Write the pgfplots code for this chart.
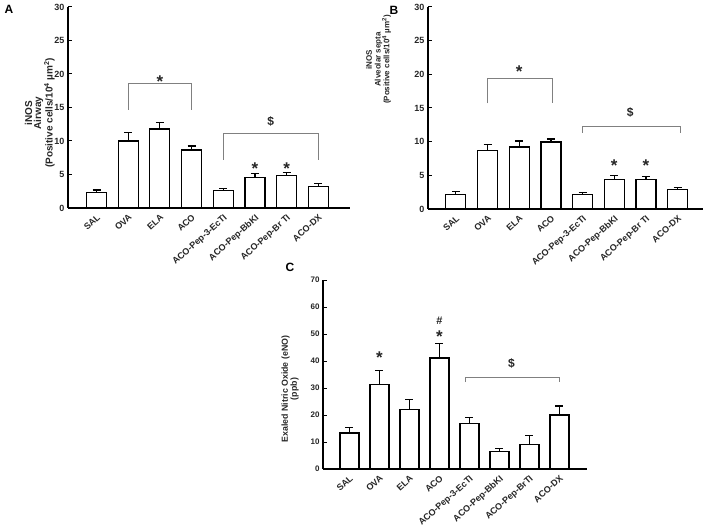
\documentclass[border=0pt]{standalone}
\usepackage{pgfplots}
\pgfplotsset{compat=1.18}
\usepackage{pgfplotstable}
\usepackage{fontspec}
\setmainfont{Liberation Sans}
\definecolor{txt}{gray}{0.15}
\definecolor{brk}{gray}{0.5}
\pgfplotstableread{
x y e
0 2.3 0.4
1 10.0 1.3
2 11.8 1.0
3 8.65 0.6
4 2.65 0.3
5 4.6 0.6
6 4.8 0.45
7 3.2 0.4
}\dataA
\pgfplotstableread{
x y e
0 2.2 0.4
1 8.7 0.9
2 9.2 0.9
3 9.95 0.45
4 2.2 0.25
5 4.4 0.6
6 4.4 0.4
7 2.9 0.25
}\dataB
\pgfplotstableread{
x y e
0 13.3 2.0
1 31.4 5.0
2 21.9 3.9
3 41.1 5.3
4 16.8 2.2
5 6.5 1.0
6 9.2 3.1
7 20.0 3.3
}\dataC
\pgfplotsset{
  panel/.style={
    scale only axis, anchor=south west, clip=false,
    axis x line*=bottom, axis y line*=left,
    axis line style={line width=1.2pt, -, black},
    ymin=0,
    xtick=data,
    x tick label style={rotate=42, anchor=north east, font=\fontsize{9}{10}\selectfont\bfseries, inner sep=1pt, text=txt},
    y tick label style={font=\fontsize{9}{10}\selectfont\bfseries, text=txt},
    /pgf/number format/assume math mode=true,
    major x tick style={draw=none},
    major tick length=4pt,
    ytick style={line width=1pt, black},
    ybar, bar width=20pt,
    ylabel style={anchor=center, align=center, text=txt},
  },
  bars/.style={fill=white, draw=black, line width=1.2pt,
    error bars/.cd, y dir=plus, y explicit,
    error bar style={line width=1.2pt, black},
    error mark options={black, line width=1.2pt, mark size=4pt, rotate=90}},
}
\newcommand{\st}{\fontsize{17}{17}\selectfont\bfseries *}
\newcommand{\dl}{\fontsize{12}{12}\selectfont\bfseries \$}
\begin{document}
\begin{tikzpicture}
\useasboundingbox (0pt,0pt) rectangle (708pt,527pt);
\node[font=\fontsize{12}{12}\selectfont\bfseries] at (9pt,518pt) {A};
\node[font=\fontsize{12}{12}\selectfont\bfseries] at (394pt,517pt) {B};
\node[font=\fontsize{12}{12}\selectfont\bfseries] at (290pt,260pt) {C};
% Panel A
\begin{axis}[panel, at={(68pt,319pt)}, width=282pt, height=201pt,
  xmin=-0.9, xmax=8.0, ymax=30, ytick={0,5,...,30},
  xticklabels={SAL,OVA,ELA,ACO,ACO-Pep-3-EcTI,ACO-Pep-BbKI,ACO-Pep-Br TI,ACO-DX},
  ylabel={iNOS\\Airway\\(Positive cells/10\textsuperscript{4} µm\textsuperscript{2})},
  ylabel style={at={(axis description cs:-0.100,0.473)}, font=\fontsize{10}{9}\selectfont\bfseries}]
\addplot[bars] table[x=x,y=y,y error=e] {\dataA};
\draw[brk, line width=0.8pt] (axis cs:1,14.7) -- (axis cs:1,18.6) -- (axis cs:3,18.6) -- (axis cs:3,14.7);
\draw[brk, line width=0.8pt] (axis cs:4,7.2) -- (axis cs:4,11.1) -- (axis cs:7,11.1) -- (axis cs:7,7.2);
\node[text=txt] at (axis cs:2,18.9) {\st};
\node[text=txt] at (axis cs:5.5,12.9) {\dl};
\node[text=txt] at (axis cs:5,5.8) {\st};
\node[text=txt] at (axis cs:6,5.8) {\st};
\end{axis}
% Panel B
\begin{axis}[panel, at={(428pt,318pt)}, width=275pt, height=202pt,
  xmin=-0.88, xmax=7.8, ymax=30, ytick={0,5,...,30},
  xticklabels={SAL,OVA,ELA,ACO,ACO-Pep-3-EcTI,ACO-Pep-BbKI,ACO-Pep-Br TI,ACO-DX},
  ylabel={iNOS\\Alveolar septa\\(Positive cells/10\textsuperscript{4} µm\textsuperscript{2})},
  ylabel style={at={(axis description cs:-0.18,0.74)}, font=\fontsize{8}{8.7}\selectfont\bfseries}]
\addplot[bars] table[x=x,y=y,y error=e] {\dataB};
\draw[brk, line width=0.8pt] (axis cs:1,15.7) -- (axis cs:1,19.4) -- (axis cs:3.05,19.4) -- (axis cs:3.05,15.7);
\draw[brk, line width=0.8pt] (axis cs:4,11.3) -- (axis cs:4,12.3) -- (axis cs:7.1,12.3) -- (axis cs:7.1,11.3);
\node[text=txt] at (axis cs:2,20.4) {\st};
\node[text=txt] at (axis cs:5.5,14.3) {\dl};
\node[text=txt] at (axis cs:5,6.5) {\st};
\node[text=txt] at (axis cs:6,6.5) {\st};
\end{axis}
% Panel C
\begin{axis}[panel, at={(323pt,58pt)}, width=264pt, height=189pt, bar width=19pt,
  xmin=-0.88, xmax=7.92, ymax=70, ytick={0,10,...,70},
  y tick label style={font=\fontsize{8}{9}\selectfont\bfseries},
  xticklabels={SAL,OVA,ELA,ACO,ACO-Pep-3-EcTI,ACO-Pep-BbKI,ACO-Pep-BrTI,ACO-DX},
  ylabel={Exaled Nitric Oxide (eNO)\\(ppb)},
  ylabel style={at={(axis description cs:-0.125,0.423)}, font=\fontsize{8.8}{9}\selectfont\bfseries}]
\addplot[bars] table[x=x,y=y,y error=e] {\dataC};
\draw[brk, line width=0.8pt] (axis cs:3.85,32.2) -- (axis cs:3.85,34.1) -- (axis cs:7,34.1) -- (axis cs:7,32.2);
\node[text=txt] at (axis cs:1,41.2) {\st};
\node[text=txt] at (axis cs:3,48.9) {\st};
\node[text=txt, font=\fontsize{11}{11}\selectfont\bfseries] at (axis cs:3,55) {\#};
\node[text=txt] at (axis cs:5.4,39) {\dl};
\end{axis}
\end{tikzpicture}
\end{document}
